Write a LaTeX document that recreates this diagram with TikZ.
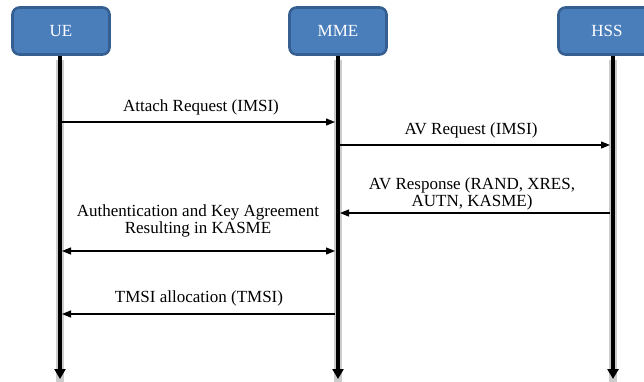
\documentclass[tikz,border=0pt]{standalone}
\usepackage{fontspec}
\setmainfont{Liberation Serif}
\usetikzlibrary{arrows.meta}
\definecolor{boxfill}{HTML}{4A7EBB}
\definecolor{boxline}{HTML}{365F91}
\definecolor{shade}{HTML}{CCCCCC}
\tikzset{
  x=1pt, y=-1pt,
  entity/.style={draw=boxline, line width=2.6pt, fill=boxfill, rounded corners=7pt,
    text=white, minimum width=97pt, minimum height=47pt, font=\fontsize{17}{19}\selectfont},
  lifeshadow/.style={draw=shade, line width=8pt},
  lifeline/.style={draw=black, line width=3.2pt, -{Triangle[length=10pt,width=11pt]}},
  msg/.style={draw=black, line width=1.2pt, -{Triangle[length=9pt,width=7pt]}},
  msgboth/.style={draw=black, line width=1.2pt, {Triangle[length=9pt,width=7pt]}-{Triangle[length=9pt,width=7pt]}},
  lbl/.style={font=\fontsize{17}{17}\selectfont, align=center, inner sep=0pt}
}
\begin{document}
\begin{tikzpicture}
\useasboundingbox (0,0) rectangle (644,381);
% participants
\node[entity] (ue)  at (61,31)  {UE};
\node[entity] (mme) at (338,31) {MME};
\begin{scope}
  \clip (0,0) rectangle (644,381);
  \node[entity] (hss) at (607,31) {HSS};
\end{scope}
% lifeline anchors
\coordinate (ueT)  at (60,56);   \coordinate (ueB)  at (60,379);
\coordinate (mmeT) at (338,56);  \coordinate (mmeB) at (338,379);
\coordinate (hssT) at (613,56);  \coordinate (hssB) at (613,379);
\foreach \t/\b in {ueT/ueB, mmeT/mmeB, hssT/hssB}{
  \draw[lifeshadow] ([yshift=-4pt]\t) -- ([yshift=-12pt]\b);
  \draw[lifeline] (\t) -- (\b);
}
% message endpoints
\coordinate (a1) at (62,122);  \coordinate (a2) at (335,122);
\coordinate (b1) at (340,145); \coordinate (b2) at (610,145);
\coordinate (c1) at (610,213); \coordinate (c2) at (340,213);
\coordinate (d1) at (62,251);  \coordinate (d2) at (335,251);
\coordinate (e1) at (335,314); \coordinate (e2) at (62,314);
% messages
\draw[msg] (a1) -- (a2);
\node[lbl] (la) at (201,107) {Attach Request (IMSI)};
\draw[msg] (b1) -- (b2);
\node[lbl] (lb) at (471,130) {AV Request (IMSI)};
\draw[msg] (c1) -- (c2);
\node[lbl] (lc) at (472,194) {AV Response (RAND, XRES,\\AUTN, KASME)};
\draw[msgboth] (d1) -- (d2);
\node[lbl] (ld) at (198,221) {Authentication and Key Agreement\\Resulting in KASME};
\draw[msg] (e1) -- (e2);
\node[lbl] (le) at (199,298) {TMSI allocation (TMSI)};
\end{tikzpicture}
\end{document}
